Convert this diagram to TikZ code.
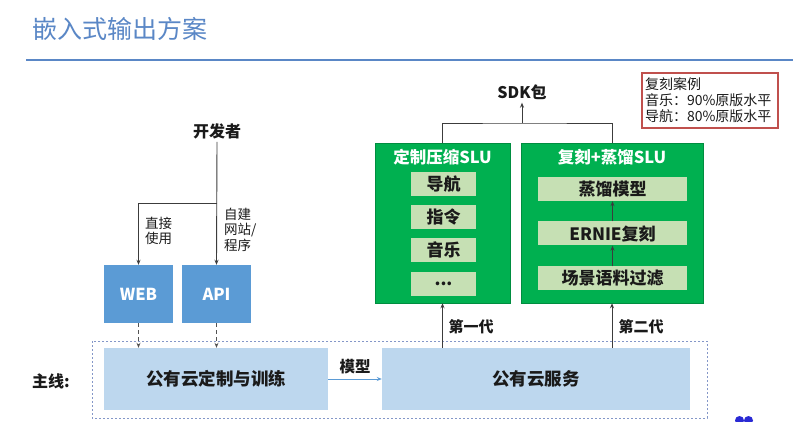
\documentclass[tikz,border=0pt]{standalone}
\usepackage{fontspec}
\setmainfont{Noto Sans CJK SC}
\usetikzlibrary{arrows.meta}
\definecolor{titleblue}{HTML}{5A87C6}
\definecolor{boxblue}{HTML}{5B9BD5}
\definecolor{lightblue}{HTML}{BDD7EE}
\definecolor{sgreen}{HTML}{00B050}
\definecolor{lgreen}{HTML}{C6E0B4}
\definecolor{rbox}{HTML}{C0504D}
\definecolor{ink}{HTML}{1A1A1A}
\definecolor{dashblue}{HTML}{8497C8}
\definecolor{logoblue}{HTML}{2A2AD4}
\tikzset{
  arr/.style={draw=ink!85, line width=0.9pt, -{Stealth[length=5pt,width=4pt]}},
  darr/.style={draw=ink!75, line width=0.9pt, dash pattern=on 4pt off 3pt, -{Stealth[length=5pt,width=4pt]}},
  bluebox/.style={fill=boxblue, text=white, font=\fontsize{16.5}{16.5}\selectfont\bfseries, minimum width=69pt, minimum height=58pt, inner sep=0pt},
  lightbox/.style={fill=lightblue, text=ink, font=\fontsize{17.5}{17.5}\selectfont\bfseries, minimum height=62pt, inner sep=0pt},
  greenbox/.style={fill=sgreen, draw=sgreen!80!black, line width=0.5pt, minimum height=160pt, inner sep=0pt},
  gtitle/.style={text=white, font=\fontsize{16.5}{16.5}\selectfont\bfseries, inner sep=0pt},
  inbox/.style={fill=lgreen, text=ink, font=\fontsize{17}{17}\selectfont\bfseries, minimum height=24pt, inner sep=0pt},
  lbl/.style={text=ink, inner sep=0pt},
}
\begin{document}
\begin{tikzpicture}[x=1pt,y=-1pt]
\useasboundingbox[fill=white] (0,0) rectangle (793,422);
% title
\node[anchor=west, text=titleblue, font=\fontsize{25}{25}\selectfont, inner sep=0pt] (title) at (32,29) {嵌入式输出方案};
\draw[titleblue, line width=2pt] (26,60) -- (793,60);

% developer
\node[lbl, font=\fontsize{16}{16}\selectfont\bfseries] (dev) at (217,131) {开发者};
\node[bluebox] (web) at (138.5,294) {WEB};
\node[bluebox] (api) at (216.5,294) {API};
\coordinate (br) at (217,203);
\draw[arr] ([yshift=-3pt]dev.south) -- (api.north);
\draw[arr] (br) -| (web.north);
\node[lbl, anchor=west, align=left, font=\fontsize{13.5}{15.5}\selectfont] (l1) at (145,231) {直接\\使用};
\node[lbl, anchor=west, align=left, font=\fontsize{13.5}{15.5}\selectfont] (l2) at (224,229.5) {自建\\网站/\\程序};

% main line
\draw[dashblue, line width=0.9pt, dash pattern=on 2pt off 2pt] (92,341) rectangle (707,418);
\node[lightbox, minimum width=224pt] (m1) at (216,379) {公有云定制与训练};
\node[lightbox, minimum width=308pt] (m2) at (536,379) {公有云服务};
\node[lbl, font=\fontsize{16}{16}\selectfont\bfseries] (zx) at (51,381) {主线:};
\draw[darr] (web.south) -- (web.south |- m1.north);
\draw[darr] (api.south) -- (api.south |- m1.north);
\draw[draw=boxblue, line width=1pt, -{Stealth[length=5pt,width=4pt]}] (m1.east) -- (m2.west);
\node[lbl, font=\fontsize{15.5}{15.5}\selectfont\bfseries] (mx) at (355,367) {模型};

% green boxes
\node[greenbox, minimum width=135pt] (g1) at (442.5,223) {};
\node[greenbox, minimum width=182pt] (g2) at (612,223) {};
\node[gtitle] (g1t) at (442.5,157.5) {定制压缩SLU};
\node[gtitle] (g2t) at (612,157.5) {复刻+蒸馏SLU};
\node[inbox, minimum width=65pt] (a1) at (443.5,184.5) {导航};
\node[inbox, minimum width=65pt] (a2) at (443.5,217) {指令};
\node[inbox, minimum width=65pt] (a3) at (443.5,250) {音乐};
\node[inbox, minimum width=65pt] (a4) at (443.5,284) {...};
\node[inbox, minimum width=149pt] (b1) at (612.5,189) {蒸馏模型};
\node[inbox, minimum width=149pt] (b2) at (612.5,233.5) {ERNIE复刻};
\node[inbox, minimum width=149pt] (b3) at (612.5,278.5) {场景语料过滤};
\draw[arr] (b3.north) -- (b2.south);
\draw[arr] (b2.north) -- (b1.south);

% SDK
\node[lbl, font=\fontsize{16}{16}\selectfont\bfseries] (sdk) at (522,92) {SDK包};
\coordinate (j) at (522,123);
\draw[ink!85, line width=0.9pt] (g1.north) |- (j) -| (g2.north);
\draw[arr] (j) -- ([yshift=-3pt]sdk.south);

% generations
\draw[arr] (g1.south |- m2.north) -- (g1.south);
\draw[arr] (g2.south |- m2.north) -- (g2.south);
\node[lbl, font=\fontsize{15}{15}\selectfont\bfseries] (gen1) at (471,327) {第一代};
\node[lbl, font=\fontsize{15}{15}\selectfont\bfseries] (gen2) at (641,327) {第二代};

% red note
\node[draw=rbox, line width=1.2pt, fill=white, minimum width=136pt, minimum height=55pt, text width=130pt, align=left, inner sep=2.5pt, text=ink, font=\fontsize{14}{16}\selectfont] (note) at (710,100.5) {复刻案例\\音乐：90\%原版水平\\导航：80\%原版水平};

% logo fragment
\fill[logoblue] (739.5,420.5) circle (4.5pt);
\fill[logoblue] (748.5,420.5) circle (4.5pt);
\end{tikzpicture}
\end{document}
